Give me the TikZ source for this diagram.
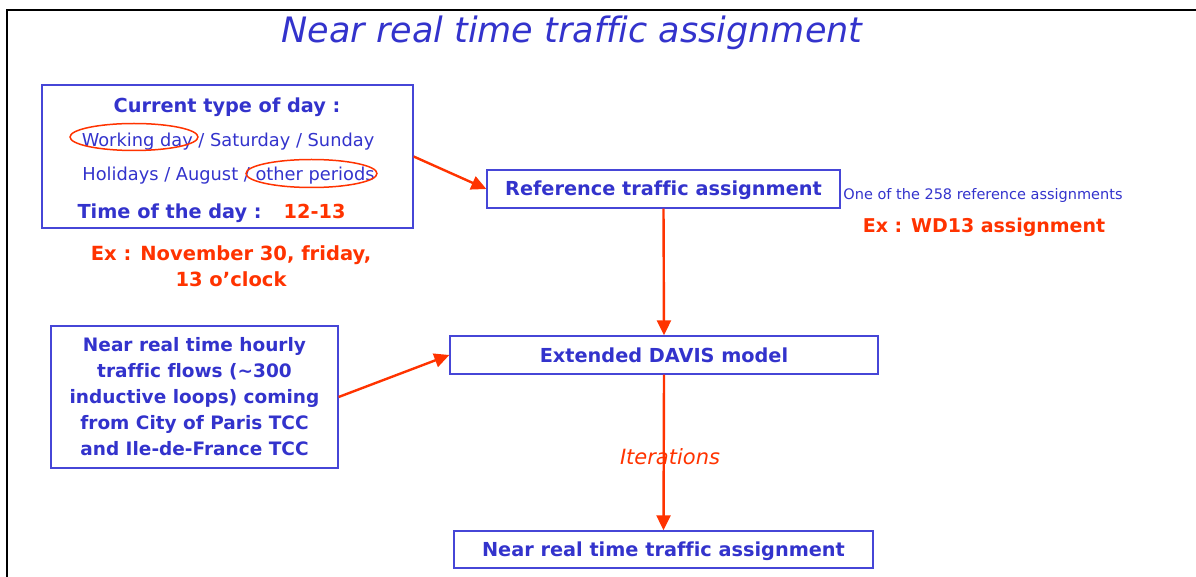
\documentclass[tikz,border=0pt]{standalone}
\usepackage{fontspec}
\setmainfont[Ligatures=NoCommon]{DejaVu Sans}
\usetikzlibrary{arrows.meta}
\definecolor{tblue}{RGB}{51,51,204}
\definecolor{tred}{RGB}{255,51,0}
\definecolor{bline}{RGB}{70,70,215}
\begin{document}
\begin{tikzpicture}[x=1pt,y=-1pt,
  box/.style={draw=bline, line width=1.3pt, inner sep=0pt, text=tblue, font=\bfseries\fontsize{19.3}{22}\selectfont},
  onebox/.style={box, text height=17pt, text depth=3pt},
  conn/.style={draw=tred, line width=2.4pt, -{Triangle[length=15pt,width=14pt]}},
  lbl/.style={text=tblue, inner sep=0pt, font=\fontsize{17.8}{21}\selectfont},
  blbl/.style={text=tblue, inner sep=0pt, font=\bfseries\fontsize{19.3}{22}\selectfont},
  rlbl/.style={text=tred, inner sep=0pt, font=\bfseries\fontsize{19}{22}\selectfont},
  circ/.style={draw=tred, line width=1.5pt}
]
\useasboundingbox (0,0) rectangle (1196,577);
\draw[line width=2.5pt] (1196,10) -- (7,10) -- (7,577);
\node[text=tblue, inner sep=0pt, font=\itshape\fontsize{35}{40}\selectfont] (title) at (572,33) {Near real time traffic assignment};
% box 1
\node[box, minimum width=371pt, minimum height=143pt] (day) at (227.5,156.5) {};
\node[blbl] (cur) at (227,107) {Current type of day :};
\node[lbl] (wd) at (228,142) {Working day / Saturday / Sunday};
\node[lbl] (hol) at (228.5,176) {Holidays / August / other periods};
\node[blbl] (tod) at (211.5,213) {Time of the day :\hspace{22pt}\textcolor{tred}{12-13}};
\draw[circ] (134,137) ellipse (64 and 13.5);
\draw[circ] (311.5,173.5) ellipse (65.5 and 14);
\node[rlbl, align=center, font=\bfseries\fontsize{19.5}{26}\selectfont] (ex1) at (231,266.5) {Ex : November 30, friday,\\13 o'clock};
% reference
\node[onebox, minimum width=353pt, minimum height=38pt] (ref) at (663.5,189) {Reference traffic assignment};
\node[text=tblue, inner sep=0pt, font=\fontsize{14.5}{17}\selectfont] (one) at (983,196) {One of the 258 reference assignments};
\node[rlbl] (wd13) at (984,227) {Ex : WD13 assignment};
% davis
\node[onebox, minimum width=428pt, minimum height=38pt] (davis) at (664,355) {Extended DAVIS model};
% flows
\node[box, minimum width=287pt, minimum height=142pt, align=center, font=\bfseries\fontsize{18.5}{26}\selectfont] (flows) at (194.5,397) {Near real time hourly\\traffic flows (\textasciitilde 300\\inductive loops) coming\\from City of Paris TCC\\and Ile-de-France TCC};
% result
\node[onebox, minimum width=419pt, minimum height=37pt] (nrt) at (663.5,549.5) {Near real time traffic assignment};
\node[text=tred, inner sep=0pt, font=\itshape\fontsize{21}{24}\selectfont] (iter) at (670,457) {Iterations};
% connectors
\draw[conn] (day.east) -- (ref.west);
\draw[conn] (ref.south) -- (davis.north);
\draw[conn] (flows.east) -- (davis.west);
\draw[conn] (davis.south) -- (nrt.north);
\end{tikzpicture}
\end{document}
